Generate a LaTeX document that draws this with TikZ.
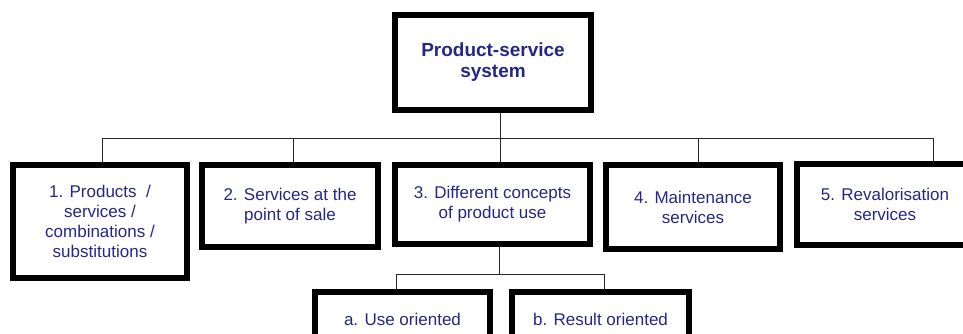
\documentclass[tikz,border=0pt]{standalone}
\usepackage{fontspec}
\setmainfont{Liberation Sans}
\usetikzlibrary{positioning, calc}
\definecolor{labelblue}{RGB}{38,38,135}

\begin{document}
\begin{tikzpicture}[
    box/.style = {
        rectangle,
        draw=black,
        line width=4pt,
        inner sep=0pt,
        align=center,
        text=labelblue,
        font=\fontsize{12.1}{14.2}\selectfont
    },
    rootbox/.style = {box, font=\fontsize{13.5}{15}\selectfont\bfseries},
    link/.style = {draw=black!85, line width=0.7pt}
]
    \useasboundingbox (0,0) rectangle (24.075,8.35);
    \clip (0,0) rectangle (24.075,8.35);

    % === ROOT ===
    \node[rootbox, minimum width=4.91cm, minimum height=2.385cm] (root) at (12.325,6.7875) {Product-service\\system};

    % === FIRST LEVEL ===
    \node[box, minimum width=4.36cm, minimum height=2.835cm] (prod) at (2.5,2.8125) {1. Products~ /\\services /\\combinations /\\substitutions};
    \node[box, minimum width=4.41cm, minimum height=2.06cm] (sale) at (7.25,3.2) {2. Services at the\\point of sale};
    \node[box, minimum width=4.885cm, minimum height=1.985cm] (use) at (12.3125,3.2375) {3. Different concepts\\of product use};
    \node[box, minimum width=4.36cm, minimum height=2.11cm] (maint) at (17.325,3.175) {4. Maintenance\\services};
    \node[box, minimum width=4.41cm, minimum height=2.035cm] (reval) at (22.125,3.2375) {5. Revalorisation\\services};

    % === SECOND LEVEL ===
    \node[box, minimum width=4.385cm, minimum height=1.36cm] (useor) at (10.0625,0.375) {a. Use oriented};
    \node[box, minimum width=4.435cm, minimum height=1.36cm] (resor) at (15.0125,0.375) {b. Result oriented};

    % === BUS POINTS ===
    \coordinate (d1) at (2.55,4.9);
    \coordinate (d2) at (7.325,4.9);
    \coordinate (d3) at (12.5,4.9);
    \coordinate (d4) at (17.45,4.9);
    \coordinate (d5) at (23.325,4.9);
    \coordinate (s0) at (12.475,1.5);
    \coordinate (sa) at (9.9,1.5);
    \coordinate (sb) at (15.1,1.5);

    % === CONNECTORS ===
    \draw[link] (root.south -| d3) -- (d3 |- use.north);
    \draw[link] (d1) -- (d5);
    \draw[link] (d1) -- (d1 |- prod.north);
    \draw[link] (d2) -- (d2 |- sale.north);
    \draw[link] (d4) -- (d4 |- maint.north);
    \draw[link] (d5) -- (d5 |- reval.north);

    \draw[link] (use.south -| s0) -- (s0);
    \draw[link] (sa) -- (sb);
    \draw[link] (sa) -- (sa |- useor.north);
    \draw[link] (sb) -- (sb |- resor.north);

\end{tikzpicture}
\end{document}
